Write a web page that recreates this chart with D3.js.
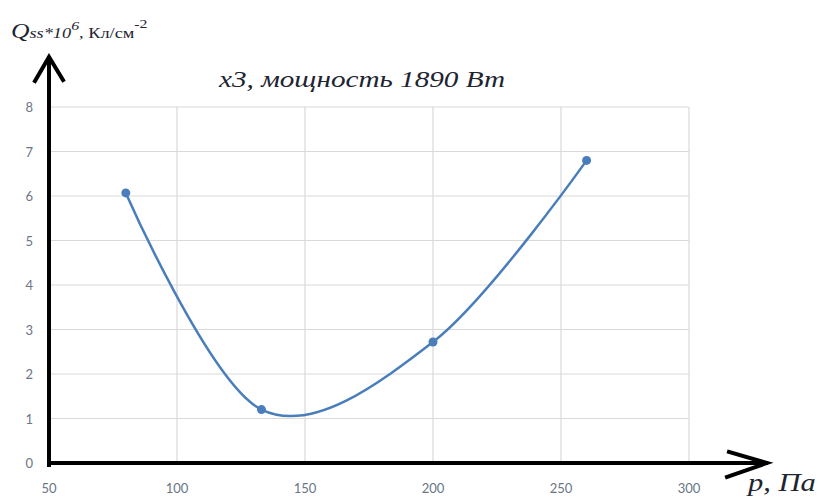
<!DOCTYPE html>
<html>
<head>
<meta charset="utf-8">
<script src="https://cdn.jsdelivr.net/npm/d3@7"></script>
<style>
  body { margin: 0; background: #fff; }
  svg { display: block; }
</style>
</head>
<body>
<script>
const pressure = [80, 133, 200, 260];
const charge = [6.07, 1.2, 2.72, 6.8];
const xTicks = [50, 100, 150, 200, 250, 300];
const yTicks = [0, 1, 2, 3, 4, 5, 6, 7, 8];
const chartTitle = 'x3, мощность 1890 Вт';

const width = 818, height = 497;
const margin = { top: 107, right: 129, bottom: 34, left: 49 };

const x = d3.scaleLinear().domain([50, 300]).range([margin.left, width - margin.right]);
const y = d3.scaleLinear().domain([0, 8]).range([height - margin.bottom, margin.top]);

const svg = d3.select('body').append('svg')
  .attr('width', width)
  .attr('height', height);

// grid
svg.append('g').selectAll('line.h')
  .data(yTicks.slice(1))
  .join('line')
  .attr('x1', x(50)).attr('x2', x(300))
  .attr('y1', d => y(d)).attr('y2', d => y(d))
  .attr('stroke', '#d9d9d9').attr('stroke-width', 1.2);

svg.append('g').selectAll('line.v')
  .data(xTicks.slice(1))
  .join('line')
  .attr('x1', d => x(d)).attr('x2', d => x(d))
  .attr('y1', y(8)).attr('y2', y(0))
  .attr('stroke', '#d9d9d9').attr('stroke-width', 1.2);

// tick labels
const tickFont = 'Lato, "Open Sans", sans-serif';
svg.append('g').selectAll('text')
  .data(yTicks)
  .join('text')
  .attr('x', 33).attr('y', d => y(d) + 5)
  .attr('text-anchor', 'end')
  .attr('font-family', tickFont).attr('font-size', 13)
  .attr('fill', '#6a7585')
  .text(d => d);

svg.append('g').selectAll('text')
  .data(xTicks)
  .join('text')
  .attr('x', d => x(d)).attr('y', 493)
  .attr('text-anchor', 'middle')
  .attr('font-family', tickFont).attr('font-size', 13)
  .attr('fill', '#6a7585')
  .text(d => d);

// axes with arrows
const axisG = svg.append('g')
  .attr('stroke', '#000').attr('stroke-width', 4)
  .attr('fill', 'none').attr('stroke-linecap', 'square');
axisG.append('line')
  .attr('x1', x(50)).attr('y1', y(0) + 2)
  .attr('x2', x(50)).attr('y2', 58);
axisG.append('path')
  .attr('d', `M35,81 L${x(50)},57 L63,80`)
  .attr('stroke-linejoin', 'miter');
axisG.append('line')
  .attr('x1', x(50)).attr('y1', y(0))
  .attr('x2', 766).attr('y2', y(0));
axisG.append('path')
  .attr('d', `M729,452 L767,${y(0)} L727,477`);

// data line
const line = d3.line()
  .x((d, i) => x(pressure[i]))
  .y(d => y(d))
  .curve(d3.curveCardinal.tension(0));

svg.append('path')
  .datum(charge)
  .attr('fill', 'none')
  .attr('stroke', '#4a7ebb')
  .attr('stroke-width', 2.5)
  .attr('d', line);

svg.append('g').selectAll('circle')
  .data(charge)
  .join('circle')
  .attr('cx', (d, i) => x(pressure[i]))
  .attr('cy', d => y(d))
  .attr('r', 4.5)
  .attr('fill', '#4a7ebb');

// the source picture is stretched horizontally, so the serif texts are too
const serif = '"Liberation Serif", "DejaVu Serif", serif';

// title
svg.append('text')
  .attr('transform', 'translate(362,87) scale(1.27,1)')
  .attr('text-anchor', 'middle')
  .attr('font-family', serif)
  .attr('font-style', 'italic')
  .attr('font-size', 23)
  .attr('fill', '#1e2430')
  .text(chartTitle);

// y axis label
const yl = svg.append('text')
  .attr('transform', 'translate(11,38) scale(1.22,1)')
  .attr('font-family', serif)
  .attr('fill', '#1e2430');
yl.append('tspan').attr('font-style', 'italic').attr('font-size', 21).text('Q');
yl.append('tspan').attr('font-style', 'italic').attr('font-size', 15).text('ss');
yl.append('tspan').attr('font-style', 'italic').attr('font-size', 15).text('*10');
yl.append('tspan').attr('font-style', 'italic').attr('font-size', 13).attr('dy', -8).text('6');
yl.append('tspan').attr('font-size', 15).attr('dy', 8).text(', Кл/см');
yl.append('tspan').attr('font-size', 13).attr('dy', -10).text('-2');

// x axis label
svg.append('text')
  .attr('transform', 'translate(748,491) scale(1.22,1)')
  .attr('font-family', serif)
  .attr('font-style', 'italic')
  .attr('font-size', 25)
  .attr('fill', '#1e2430')
  .text('p, Па');
</script>
</body>
</html>
